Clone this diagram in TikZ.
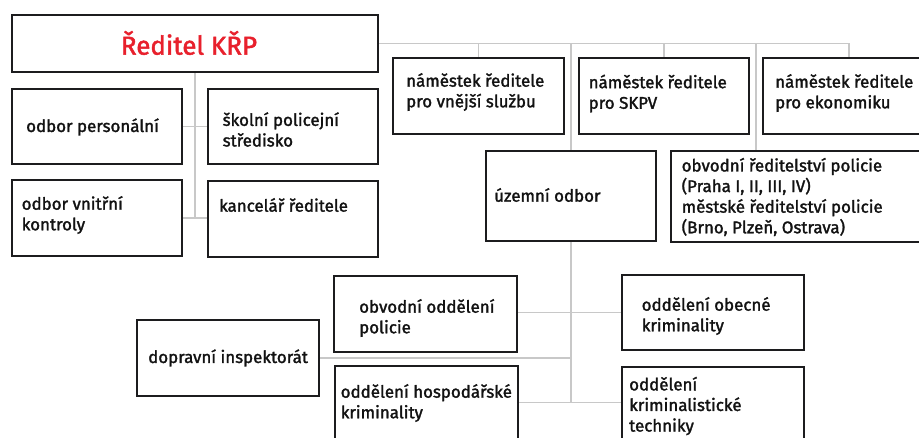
\documentclass[tikz,border=0pt]{standalone}
\usepackage{fontspec}
\setmainfont{Fira Sans}[BoldFont=*, BoldFeatures={FakeBold=1.7}]
\usetikzlibrary{backgrounds}
\definecolor{framec}{RGB}{28,28,30}
\definecolor{linkc}{RGB}{200,200,200}
\definecolor{titlec}{RGB}{232,32,44}
\definecolor{textc}{RGB}{18,18,18}
\tikzset{
  box/.style={draw=framec, line width=1.7pt, fill=white, inner sep=0pt, outer sep=0pt, anchor=north west},
  txt/.style={text=textc, font=\fontsize{16.9}{20.6}\selectfont\bfseries, align=left, inner sep=0pt, anchor=west},
  link/.style={draw=linkc, line width=1.4pt},
}
\begin{document}
\begin{tikzpicture}[x=1pt, y=-1pt]
\clip (0,0) rectangle (919,438);

% boxes (positions of the north-west corners)
\path
  (12,15)    node[box, minimum width=366pt, minimum height=57pt] (main) {}
  (12,89)    node[box, minimum width=170pt, minimum height=75pt] (pers) {}
  (208,89)   node[box, minimum width=170pt, minimum height=75pt] (skol) {}
  (12,180)   node[box, minimum width=170pt, minimum height=76pt] (vnitr) {}
  (208,181)  node[box, minimum width=170pt, minimum height=76pt] (kanc) {}
  (393,58)   node[box, minimum width=171pt, minimum height=76pt] (vnejsi) {}
  (579,58)   node[box, minimum width=170pt, minimum height=76pt] (skpv) {}
  (763,58)   node[box, minimum width=172pt, minimum height=76pt] (ekon) {}
  (486,151)  node[box, minimum width=170pt, minimum height=90pt] (uzemni) {}
  (671,151)  node[box, minimum width=264pt, minimum height=91pt] (obvr) {}
  (334,276)  node[box, minimum width=183pt, minimum height=76pt] (obvod) {}
  (622,275)  node[box, minimum width=182pt, minimum height=75pt] (obec) {}
  (137,320)  node[box, minimum width=182pt, minimum height=76pt] (dopr) {}
  (335,366)  node[box, minimum width=183pt, minimum height=90pt] (hosp) {}
  (622,367)  node[box, minimum width=182pt, minimum height=90pt] (krim) {};

\coordinate (rail)  at (ekon.north |- main.east);
\coordinate (spur)  at (756,0 |- main.east);
\coordinate (trunk) at (uzemni.south |- 0,402.7);

% connectors, drawn behind the boxes
\begin{scope}[on background layer]
  \fill[white] (0,0) rectangle (919,438);
  \draw[link] (main.east) -- (rail) -- (ekon.north);
  \draw[link] (vnejsi.north) -- (vnejsi.north |- main.east);
  \draw[link] (skpv.north) -- (skpv.north |- main.east);
  \draw[link] (spur) -- (spur |- obvr.north);
  \draw[link] (uzemni.north |- main.east) -- (trunk);
  \draw[link] (main.south) -- (main.south |- vnitr.east);
  \draw[link] (pers.east) -- (skol.west |- pers.east);
  \draw[link] (vnitr.east) -- (kanc.west |- vnitr.east);
  \draw[link] (obvod.east |- obec.west) -- (obec.west);
  \draw[link] (dopr.east) -- (dopr.east -| trunk);
  \draw[link] (hosp.east |- trunk) -- (krim.west |- trunk);
\end{scope}

% text of the boxes
\node[text=titlec, font=\fontsize{26}{30}\selectfont\bfseries, inner sep=0pt] (main-t) at (189,43) {Ředitel KŘP};
\node[txt] (pers-t)   at (26,127)     {odbor personální};
\node[txt] (skol-t)   at (222.5,129.5){školní policejní\\středisko};
\node[txt] (vnitr-t)  at (21.5,215)   {odbor vnitřní\\kontroly};
\node[txt] (kanc-t)   at (219,205)    {kancelář ředitele};
\node[txt] (vnejsi-t) at (406,92)     {náměstek ředitele\\pro vnější službu};
\node[txt] (skpv-t)   at (588.5,93.5) {náměstek ředitele\\pro SKPV};
\node[txt] (ekon-t)   at (775,93)     {náměstek ředitele\\pro ekonomiku};
\node[txt] (uzemni-t) at (494,195)    {územní odbor};
\node[txt] (obvr-t)   at (681.5,197)  {obvodní ředitelství policie\\(Praha I, II, III, IV)\\městské ředitelství policie\\(Brno, Plzeň, Ostrava)};
\node[txt] (obvod-t)  at (359,318)    {obvodní oddělení\\policie};
\node[txt] (obec-t)   at (641.5,316)  {oddělení obecné\\kriminality};
\node[txt] (dopr-t)   at (148,358)    {dopravní inspektorát};
\node[txt] (hosp-t)   at (340.5,403)  {oddělení hospodářské\\kriminality};
\node[txt] (krim-t)   at (629,406)    {oddělení\\kriminalistické\\techniky};
\end{tikzpicture}
\end{document}
